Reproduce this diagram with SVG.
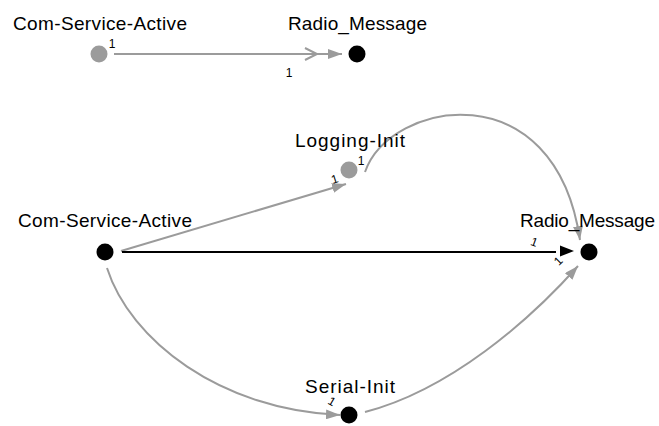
<svg xmlns="http://www.w3.org/2000/svg" width="659" height="426" viewBox="0 0 659 426">
  <style>
    .label { font-family: "Liberation Sans", Arial, sans-serif; font-size: 19px; fill: #000; text-anchor: middle; }
    .mult { font-family: "Liberation Sans", Arial, sans-serif; font-size: 12px; fill: #000; text-anchor: middle; }
    .edge { fill: none; stroke: #9b9b9b; stroke-width: 2; }
    .strong { fill: none; stroke: #000; stroke-width: 2; }
    .on { fill: #000; }
    .off { fill: #9b9b9b; }
  </style>
  <defs>
    <marker id="arrowGray" viewBox="0 0 14 10" refX="14" refY="5" markerWidth="14" markerHeight="10" markerUnits="userSpaceOnUse" orient="auto">
      <path d="M0,0 L14,5 L0,10 z" fill="#9b9b9b"/>
    </marker>
  </defs>

  <rect width="659" height="426" fill="#fff"/>

  <!-- connectors -->
  <g id="connectors">
    <!-- upper small chart -->
    <line class="edge" x1="114" y1="54" x2="342" y2="54" marker-end="url(#arrowGray)"/>
    <polyline class="edge" points="305,48 317,54 305,60"/>
    <text class="mult" x="112" y="48">1</text>
    <text class="mult" x="289" y="77">1</text>

    <!-- Com-Service-Active -> Logging-Init -->
    <line class="edge" x1="121" y1="251" x2="346" y2="184" marker-end="url(#arrowGray)"/>
    <text class="mult" transform="translate(336,183) rotate(-18)">1</text>
    <text class="mult" x="361" y="165">1</text>

    <!-- Logging-Init -> Radio_Message -->
    <path class="edge" d="M365,172 C390,100 555,70 580,240" marker-end="url(#arrowGray)"/>
    <text class="mult" transform="translate(533,246) rotate(20)">1</text>

    <!-- Com-Service-Active -> Radio_Message -->
    <line class="strong" x1="122" y1="252" x2="556" y2="252"/>
    <path class="on" d="M574,251 L560,245.5 L560,256.5 z"/>
    <text class="mult" transform="translate(561,264) rotate(-45)">1</text>

    <!-- Com-Service-Active -> Serial-Init -->
    <path class="edge" d="M107,268 C130,340 220,410 340,415" marker-end="url(#arrowGray)"/>
    <text class="mult" transform="translate(330,405) rotate(30)">1</text>

    <!-- Serial-Init -> Radio_Message -->
    <path class="edge" d="M365,412 C450,390 530,320 578,266" marker-end="url(#arrowGray)"/>
  </g>

  <!-- nodes -->
  <g id="node-com-service-active-top">
    <circle class="off" cx="99" cy="54" r="8.5"/>
    <text class="label" x="100" y="30" textLength="174" lengthAdjust="spacing">Com-Service-Active</text>
  </g>
  <g id="node-radio-message-top">
    <circle class="on" cx="357" cy="54" r="8.5"/>
    <text class="label" x="357.5" y="30" textLength="139" lengthAdjust="spacing">Radio_Message</text>
  </g>
  <g id="node-com-service-active">
    <circle class="on" cx="105" cy="252" r="8.5"/>
    <text class="label" x="105" y="227" textLength="174" lengthAdjust="spacing">Com-Service-Active</text>
  </g>
  <g id="node-logging-init">
    <circle class="off" cx="349" cy="170" r="8.5"/>
    <text class="label" x="350" y="147" textLength="110" lengthAdjust="spacing">Logging-Init</text>
  </g>
  <g id="node-radio-message">
    <circle class="on" cx="589" cy="252" r="8.5"/>
    <text class="label" x="587.5" y="227" textLength="135" lengthAdjust="spacing">Radio_Message</text>
  </g>
  <g id="node-serial-init">
    <circle class="on" cx="349" cy="415" r="8.5"/>
    <text class="label" x="350" y="393" textLength="90" lengthAdjust="spacing">Serial-Init</text>
  </g>
</svg>
